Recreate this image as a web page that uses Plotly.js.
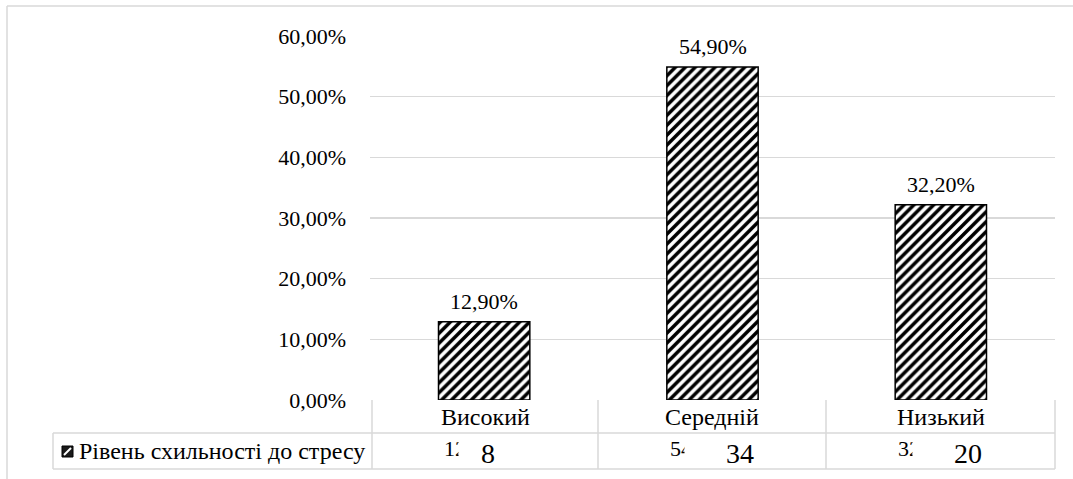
<!DOCTYPE html>
<html>
<head>
<meta charset="utf-8">
<script src="https://cdn.plot.ly/plotly-3.0.1.min.js"></script>
<style>html,body{margin:0;padding:0;background:#fff;}#chart{width:1073px;height:479px;}</style>
</head>
<body>
<div id="chart"></div>
<script>
const categories = ["Високий", "Середній", "Низький"];
const percentValues = [0.129, 0.549, 0.322];
const countValues = [8, 34, 20];
const seriesName = "Рівень схильності до стресу";
const yTickValues = [0, 0.1, 0.2, 0.3, 0.4, 0.5, 0.6];

const W = 1073, H = 479;
const L = 370, R = 18, T = 36, B = 79;
const pw = W - L - R, ph = H - T - B;
const px = X => (X - L) / pw;
const py = Y => (H - B - Y) / ph;
const font = "Liberation Serif";
const grid = "#d9d9d9";

function fmtPct(v) {
  return (v * 100).toFixed(2).replace(".", ",") + "%";
}

const trace = {
  type: "bar",
  x: categories,
  y: percentValues,
  name: seriesName,
  width: 0.4,
  marker: {
    color: "#ffffff",
    line: {color: "#000000", width: 1.5},
    pattern: {shape: "/", fgcolor: "#000000", bgcolor: "#ffffff", size: 7, solidity: 0.5}
  },
  hoverinfo: "none",
  showlegend: false
};

const annotations = [];
const shapes = [];

// value labels above bars
categories.forEach((c, i) => {
  annotations.push({
    x: c, y: percentValues[i], xref: "x", yref: "y",
    text: fmtPct(percentValues[i]), showarrow: false,
    yanchor: "bottom", yshift: 6,
    font: {family: font, size: 22, color: "#000"}
  });
});

// data table under the plot
const row1Top = 400, row1Bot = 433, row2Bot = 469;
const colEdges = [L + 2, 598, 826, 1055];
const countShift = [3, 28, 27];
const rowMid2 = (row1Bot + row2Bot) / 2;
categories.forEach((c, i) => {
  const cx = (colEdges[i] + colEdges[i + 1]) / 2;
  annotations.push({
    x: px(cx), y: py((row1Top + row1Bot) / 2), xref: "paper", yref: "paper",
    text: c, showarrow: false, xanchor: "center", yanchor: "middle",
    font: {family: font, size: 24, color: "#000"}
  });
  // percent text, mostly hidden by the cover box
  annotations.push({
    x: px(colEdges[i] + 70), y: py(rowMid2 - 3), xref: "paper", yref: "paper",
    text: fmtPct(percentValues[i]), showarrow: false, xanchor: "left", yanchor: "middle",
    font: {family: font, size: 22, color: "#000"}
  });
  // white cover box
  annotations.push({
    x: px(colEdges[i] + 86), y: py(rowMid2), xref: "paper", yref: "paper",
    text: " ", showarrow: false, xanchor: "left", yanchor: "middle",
    width: (colEdges[i + 1] - colEdges[i]) - 100, height: 30,
    bgcolor: "#ffffff", borderpad: 0,
    font: {family: font, size: 10, color: "#fff"}
  });
  // count value
  annotations.push({
    x: px(cx + countShift[i]), y: py(rowMid2 + 3), xref: "paper", yref: "paper",
    text: String(countValues[i]), showarrow: false, xanchor: "center", yanchor: "middle",
    font: {family: font, size: 28, color: "#000"}
  });
});

// series label in row 2
annotations.push({
  x: px(77), y: py(rowMid2), xref: "paper", yref: "paper",
  text: seriesName, showarrow: false, xanchor: "left", yanchor: "middle",
  font: {family: font, size: 24, color: "#000"}
});

// table & frame lines
const line = (x0, y0, x1, y1) => shapes.push({
  type: "line", xref: "paper", yref: "paper",
  x0: px(x0), y0: py(y0), x1: px(x1), y1: py(y1),
  line: {color: grid, width: 1.5}, layer: "above"
});
colEdges.forEach(x => line(x, row1Top, x, row2Bot));
line(53, row1Bot, 53, row2Bot);
line(53, row1Bot, 1055, row1Bot);
line(53, row2Bot, 1055, row2Bot);
line(7, 6, 1073, 6);
line(7, 6, 7, 479);

// legend key
shapes.push({
  type: "rect", xref: "paper", yref: "paper",
  x0: px(62), x1: px(73), y0: py(457), y1: py(446),
  fillcolor: "#1a1a1a", line: {color: "#000", width: 1}, layer: "above"
});
shapes.push({
  type: "line", xref: "paper", yref: "paper",
  x0: px(64), x1: px(71), y0: py(455), y1: py(448),
  line: {color: "#fff", width: 2}, layer: "above"
});

const layout = {
  width: W, height: H,
  margin: {l: L, r: R, t: T, b: B, pad: 0},
  paper_bgcolor: "#fff", plot_bgcolor: "#fff",
  separators: ",.",
  bargap: 0.6,
  font: {family: font, size: 22, color: "#000"},
  xaxis: {
    type: "category", showticklabels: false, showgrid: false, zeroline: false,
    showline: false, ticks: "", range: [-0.5, 2.5], fixedrange: true
  },
  yaxis: {
    range: [0, 0.6], tickvals: yTickValues, tickformat: ".2%",
    showgrid: true, gridcolor: grid, gridwidth: 1.5, zeroline: false, showline: false,
    ticks: "", ticklabelstandoff: 23,
    tickfont: {family: font, size: 22, color: "#000"}, fixedrange: true
  },
  showlegend: false,
  annotations: annotations,
  shapes: shapes
};

Plotly.newPlot("chart", [trace], layout, {displayModeBar: false, staticPlot: true});
</script>
</body>
</html>
